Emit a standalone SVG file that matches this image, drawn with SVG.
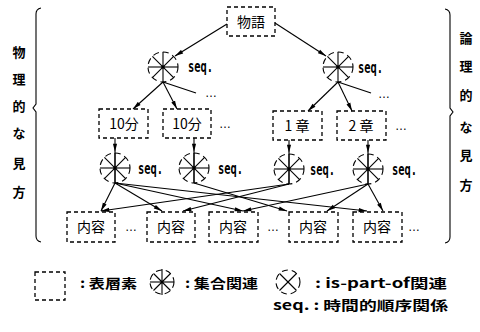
<svg xmlns="http://www.w3.org/2000/svg" width="480" height="332" viewBox="0 0 480 332">
<defs>
<style>
.box{fill:none;stroke:#000;stroke-width:1.3;stroke-dasharray:4 3}
.ln{stroke:#000;stroke-width:1.1;fill:none}
.ar{stroke:#000;stroke-width:1.1;fill:none;marker-end:url(#ah)}
.t{font-family:"Noto Sans CJK JP","Liberation Sans",sans-serif;font-size:14px;fill:#000}
.side{font-family:"Noto Sans CJK JP",sans-serif;font-size:13px;font-weight:bold;text-anchor:middle}
.seq{font-family:"DejaVu Sans Mono","Liberation Mono",monospace;font-size:15px;font-weight:bold}
.dots{font-family:"Liberation Sans",sans-serif;font-size:12px}
.lg{font-family:"Noto Sans CJK JP",sans-serif;font-size:13px;font-weight:bold}
.circ{fill:none;stroke:#000;stroke-width:1.1;stroke-dasharray:6 4}
</style>
<marker id="ah" viewBox="0 0 10 6" refX="10" refY="3" markerWidth="9" markerHeight="5" orient="auto" markerUnits="userSpaceOnUse"><path d="M0,0.5 L10,3 L0,5.5 z"/></marker>
<g id="setsym">
<circle r="15" class="circ"/>
<line x1="0" y1="-15" x2="0" y2="15" class="ln"/>
<line x1="-15" y1="0" x2="15" y2="0" class="ln"/>
<line x1="-10.6" y1="-10.6" x2="10.6" y2="10.6" class="ln"/>
<line x1="-10.6" y1="10.6" x2="10.6" y2="-10.6" class="ln"/>
<circle r="1.8" fill="#000"/>
</g>
</defs>
<rect width="480" height="332" fill="#fff"/>

<!-- brackets -->
<path class="ln" d="M41,8 Q36,9 36,14 L36,104 L33,108 L36,112 L36,236 Q36,241 41,242"/>
<path class="ln" d="M445,9 Q450,10 450,15 L450,108 L453,112 L450,116 L450,237 Q450,242 445,243"/>

<!-- side labels -->
<g id="phys-label" class="side">
<text x="19" y="57">物</text>
<text x="19" y="84">理</text>
<text x="19" y="111">的</text>
<text x="19" y="138">な</text>
<text x="19" y="168">見</text>
<text x="19" y="197">方</text>
</g>
<g id="logic-label" class="side">
<text x="466" y="43">論</text>
<text x="466" y="71">理</text>
<text x="466" y="100">的</text>
<text x="466" y="132">な</text>
<text x="466" y="160">見</text>
<text x="466" y="190">方</text>
</g>

<!-- connectors -->
<g id="connectors">
<line class="ar" x1="227" y1="24" x2="175" y2="56"/>
<line class="ar" x1="275" y1="23" x2="326" y2="56"/>
<line class="ar" x1="163" y1="82" x2="133" y2="109"/>
<line class="ar" x1="163" y1="82" x2="177" y2="109"/>
<line class="ln" x1="163" y1="82" x2="196" y2="93"/>
<line class="ar" x1="338" y1="82" x2="308" y2="111"/>
<line class="ar" x1="338" y1="82" x2="352" y2="111"/>
<line class="ln" x1="338" y1="82" x2="371" y2="93"/>
<line class="ar" x1="115" y1="138" x2="115" y2="152"/>
<line class="ln" x1="115" y1="152" x2="115" y2="183"/>
<line class="ar" x1="194" y1="138" x2="194" y2="152"/>
<line class="ln" x1="194" y1="152" x2="194" y2="183"/>
<line class="ar" x1="289" y1="140" x2="289" y2="153"/>
<line class="ln" x1="289" y1="153" x2="289" y2="184"/>
<line class="ar" x1="368" y1="140" x2="368" y2="153"/>
<line class="ln" x1="368" y1="153" x2="368" y2="184"/>
<line class="ar" x1="115" y1="183" x2="101" y2="211"/>
<line class="ar" x1="115" y1="183" x2="162" y2="211"/>
<line class="ar" x1="115" y1="183" x2="243" y2="211"/>
<line class="ar" x1="115" y1="183" x2="367" y2="211"/>
<line class="ar" x1="194" y1="183" x2="287" y2="211"/>
<line class="ar" x1="289" y1="184" x2="101" y2="211"/>
<line class="ar" x1="289" y1="184" x2="183" y2="211"/>
<line class="ar" x1="368" y1="184" x2="243" y2="211"/>
<line class="ar" x1="368" y1="184" x2="327" y2="211"/>
<line class="ar" x1="368" y1="184" x2="383" y2="211"/>
</g>

<!-- nodes -->
<g id="story"><rect class="box" x="227" y="7" width="48" height="29"/><text class="t" x="251" y="27" text-anchor="middle">物語</text></g>

<g id="set-phys"><use href="#setsym" x="163" y="67"/><text class="seq" x="188" y="72" textLength="25" lengthAdjust="spacingAndGlyphs">seq.</text><text class="dots" x="205" y="97">…</text></g>
<g id="set-logic"><use href="#setsym" x="338" y="67"/><text class="seq" x="358" y="73" textLength="25" lengthAdjust="spacingAndGlyphs">seq.</text><text class="dots" x="378" y="98">…</text></g>

<g id="seg1"><rect class="box" x="99" y="109" width="49" height="29"/><text class="t" x="124" y="129" text-anchor="middle">10分</text></g>
<g id="seg2"><rect class="box" x="163" y="109" width="48" height="29"/><text class="t" x="187" y="129" text-anchor="middle">10分</text><text class="dots" x="219" y="128">…</text></g>
<g id="ch1"><rect class="box" x="273" y="111" width="49" height="29"/><text class="t" x="297" y="131" text-anchor="middle">1 章</text></g>
<g id="ch2"><rect class="box" x="337" y="111" width="49" height="29"/><text class="t" x="361" y="131" text-anchor="middle">2 章</text><text class="dots" x="395" y="130">…</text></g>

<g id="set-seg1"><use href="#setsym" x="115" y="168"/><text class="seq" x="138" y="174" textLength="25" lengthAdjust="spacingAndGlyphs">seq.</text></g>
<g id="set-seg2"><use href="#setsym" x="194" y="168"/><text class="seq" x="218" y="174" textLength="25" lengthAdjust="spacingAndGlyphs">seq.</text></g>
<g id="set-ch1"><use href="#setsym" x="289" y="169"/><text class="seq" x="310" y="175" textLength="25" lengthAdjust="spacingAndGlyphs">seq.</text></g>
<g id="set-ch2"><use href="#setsym" x="368" y="169"/><text class="seq" x="392" y="175" textLength="25" lengthAdjust="spacingAndGlyphs">seq.</text></g>

<g id="c1"><rect class="box" x="67" y="212" width="48" height="30"/><text class="t" x="91" y="232" text-anchor="middle">内容</text><text class="dots" x="125" y="231">…</text></g>
<g id="c2"><rect class="box" x="147" y="212" width="48" height="30"/><text class="t" x="171" y="232" text-anchor="middle">内容</text></g>
<g id="c3"><rect class="box" x="209" y="212" width="49" height="30"/><text class="t" x="233" y="232" text-anchor="middle">内容</text><text class="dots" x="267" y="231">…</text></g>
<g id="c4"><rect class="box" x="289" y="212" width="49" height="30"/><text class="t" x="313" y="232" text-anchor="middle">内容</text></g>
<g id="c5"><rect class="box" x="353" y="212" width="49" height="30"/><text class="t" x="377" y="232" text-anchor="middle">内容</text><text class="dots" x="408" y="231">…</text></g>

<!-- legend -->
<g id="legend">
<rect class="box" x="35" y="272" width="30" height="28"/>
<text class="lg" x="80" y="288" textLength="57" lengthAdjust="spacingAndGlyphs">: 表層素</text>
<g transform="translate(162,282)">
<circle r="12" class="circ"/>
<line x1="0" y1="-13" x2="0" y2="13" class="ln"/>
<line x1="-12" y1="0" x2="12" y2="0" class="ln"/>
<line x1="-8.5" y1="-8.5" x2="8.5" y2="8.5" class="ln"/>
<line x1="-8.5" y1="8.5" x2="8.5" y2="-8.5" class="ln"/>
<circle r="1.5" fill="#000"/>
</g>
<text class="lg" x="185" y="288" textLength="73" lengthAdjust="spacingAndGlyphs">: 集合関連</text>
<g transform="translate(288,282)">
<circle r="12" class="circ"/>
<line x1="-8.5" y1="-8.5" x2="8.5" y2="8.5" class="ln"/>
<line x1="-8.5" y1="8.5" x2="8.5" y2="-8.5" class="ln"/>
</g>
<text class="lg" x="315" y="288" textLength="132" lengthAdjust="spacingAndGlyphs">: is-part-of関連</text>
<text class="lg" x="273" y="310" textLength="175" lengthAdjust="spacingAndGlyphs">seq. : 時間的順序関係</text>
</g>
</svg>
